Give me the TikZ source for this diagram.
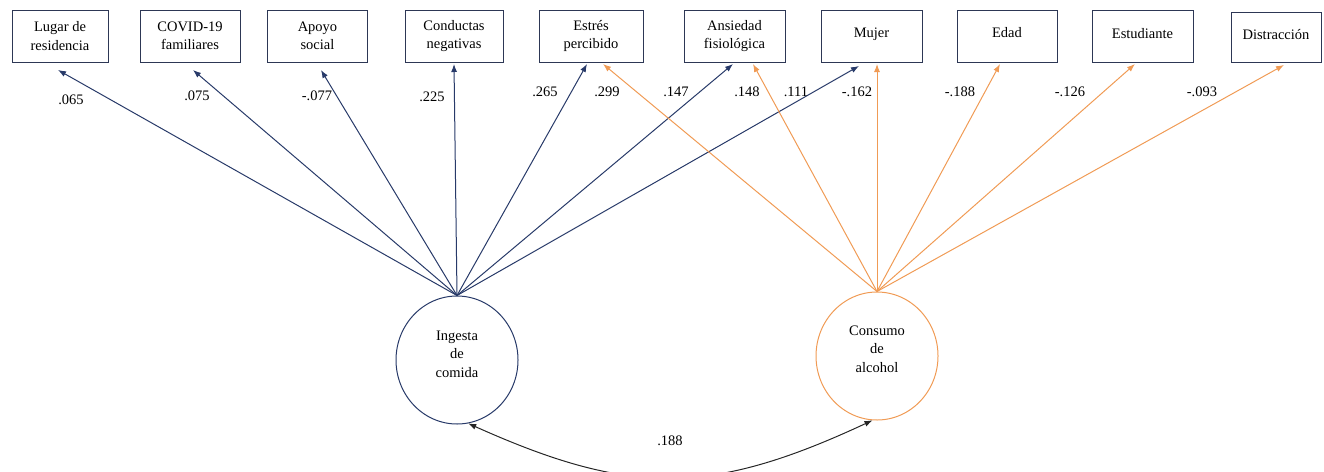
\documentclass[tikz,border=0pt]{standalone}
\usepackage{fontspec}
\setmainfont{Liberation Serif}
\usetikzlibrary{arrows.meta,shapes.geometric}
\definecolor{navy}{RGB}{40,58,105}
\definecolor{orng}{RGB}{240,155,85}
\definecolor{boxc}{RGB}{45,55,85}
\begin{document}
\begin{tikzpicture}[x=1pt,y=-1pt,
  font=\fontsize{14.5}{18.5}\selectfont,
  var/.style={draw=boxc, line width=1pt, minimum width=100pt, minimum height=52pt, inner sep=0pt, align=center},
  lat/.style={ellipse, line width=1pt, minimum width=122pt, minimum height=128pt, inner sep=0pt},
  lattext/.style={inner sep=0pt, align=center},
  bpath/.style={draw=navy, line width=1pt, -{Latex[length=8pt,width=6pt]}},
  opath/.style={draw=orng, line width=1pt, -{Latex[length=8pt,width=6pt]}},
  corr/.style={draw=black!85, line width=1pt, {Latex[length=8pt,width=6pt]}-{Latex[length=8pt,width=6pt]}},
  coef/.style={inner sep=0pt}]
\useasboundingbox (0,0) rectangle (1324,471);

% observed variables
\node[var, minimum width=96pt] (lugar) at (60,36) {Lugar de\\residencia};
\node[var] (covid) at (190,36) {COVID-19\\familiares};
\node[var] (apoyo) at (317.5,36) {Apoyo\\social};
\node[var, minimum width=98pt] (cond) at (454,36) {Conductas\\negativas};
\node[var, minimum width=104pt] (estres) at (591,36) {Estrés\\percibido};
\node[var, minimum width=101pt] (ansi) at (734.5,36) {Ansiedad\\fisiológica};
\node[var, minimum width=101pt] (mujer) at (871.5,36) {\raisebox{7pt}{Mujer}};
\node[var] (edad) at (1007,36) {\raisebox{7pt}{Edad}};
\node[var, minimum width=101pt] (estu) at (1142.5,36) {\raisebox{6pt}{Estudiante}};
\node[var, minimum width=90pt, minimum height=50pt] (distr) at (1276,37) {\raisebox{5pt}{Distracción}};

% latent variables
\node[lat, draw=navy] (ing) at (457,360) {};
\node[lattext] (ingT) at (457,354) {Ingesta\\de\\comida};
\node[lat, draw=orng] (con) at (877,356) {};
\node[lattext] (conT) at (877,349) {Consumo\\de\\alcohol};

% arrow tips
\coordinate (tLugar) at (58,70);
\coordinate (tCovid) at (193,70);
\coordinate (tApoyo) at (321,70);
\coordinate (tCond) at (454,64);
\coordinate (tEstB) at (587,64);
\coordinate (tEstO) at (603,64);
\coordinate (tAnsB) at (733,64);
\coordinate (tAnsO) at (753,64);
\coordinate (tMujB) at (859,66);
\coordinate (tMujO) at (877,64);
\coordinate (tEdad) at (1000,64);
\coordinate (tEstu) at (1135,64);
\coordinate (tDist) at (1284,65);

% blue paths
\draw[bpath] (ing.north) -- (tLugar);
\draw[bpath] (ing.north) -- (tCovid);
\draw[bpath] (ing.north) -- (tApoyo);
\draw[bpath] (ing.north) -- (tCond);
\draw[bpath] (ing.north) -- (tEstB);
\draw[bpath] (ing.north) -- (tAnsB);
\draw[bpath] (ing.north) -- (tMujB);

% orange paths
\draw[opath] (con.north) -- (tEstO);
\draw[opath] (con.north) -- (tAnsO);
\draw[opath] (con.north) -- (tMujO);
\draw[opath] (con.north) -- (tEdad);
\draw[opath] (con.north) -- (tEstu);
\draw[opath] (con.north) -- (tDist);

% correlation
\draw[corr] (ing.-80) .. controls (630,496) and (710,496) .. (con.-94);

% coefficients
\node[coef] (c1) at (71,100) {.065};
\node[coef] (c2) at (197,96) {.075};
\node[coef] (c3) at (317,96) {-.077};
\node[coef] (c4) at (432,97) {.225};
\node[coef] (c5) at (545,92) {.265};
\node[coef] (c6) at (607,92) {.299};
\node[coef] (c7) at (676,92) {.147};
\node[coef] (c8) at (747,92) {.148};
\node[coef] (c9) at (796,92) {.111};
\node[coef] (c10) at (857,92) {-.162};
\node[coef] (c11) at (960,92) {-.188};
\node[coef] (c12) at (1070,92) {-.126};
\node[coef] (c13) at (1202,92) {-.093};
\node[coef] (c14) at (670,441) {.188};
\end{tikzpicture}
\end{document}
